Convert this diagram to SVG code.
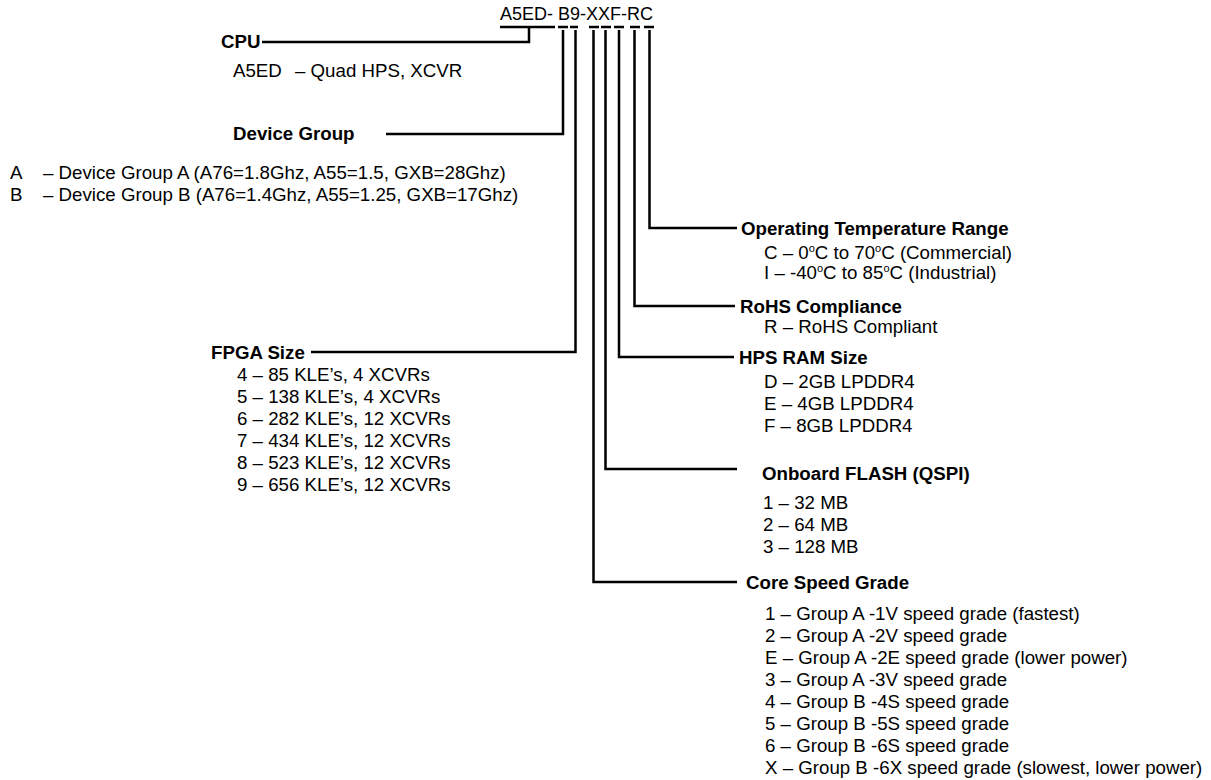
<svg xmlns="http://www.w3.org/2000/svg" width="1211" height="780" viewBox="0 0 1211 780">
<style>
text{font-family:"Liberation Sans",Arial,sans-serif;font-size:18.7px;fill:#000}
.b{font-weight:bold}
.pn{font-size:18px}
.ln{fill:none;stroke:#000;stroke-width:2.5}
.ul{fill:none;stroke:#000;stroke-width:2.5}
</style>
<rect width="1211" height="780" fill="#fff"/>
<g id="partnumber">
<text class="pn" x="500" y="20">A5ED- B9-XXF-RC</text>
<path class="ul" d="M500 27H555M558 27H568M570 27H578M589 27H599M601 27H611M614 27H624M630 27H640M644 27H654"/>
</g>
<g id="connectors">
<path class="ln" d="M529 27V42H262"/>
<path class="ln" d="M563 30V134H386"/>
<path class="ln" d="M575.5 30V352H311"/>
<path class="ln" d="M593.5 30V582H737"/>
<path class="ln" d="M605.5 30V469H737"/>
<path class="ln" d="M619 30V357H734"/>
<path class="ln" d="M634.5 30V306H735"/>
<path class="ln" d="M649.5 30V228H737"/>
</g>
<g id="cpu">
<text class="b" x="221" y="48">CPU</text>
<text x="233" y="77">A5ED<tspan x="295">– Quad HPS, XCVR</tspan></text>
</g>
<g id="device-group">
<text class="b" x="233" y="140">Device Group</text>
<text x="10" y="179">A<tspan x="43">– Device Group A (A76=1.8Ghz, A55=1.5, GXB=28Ghz)</tspan></text>
<text x="10" y="201">B<tspan x="43">– Device Group B (A76=1.4Ghz, A55=1.25, GXB=17Ghz)</tspan></text>
</g>
<g id="fpga-size">
<text class="b" x="211" y="359">FPGA Size</text>
<text x="237" y="381">4 – 85 KLE’s, 4 XCVRs</text>
<text x="237" y="403">5 – 138 KLE’s, 4 XCVRs</text>
<text x="237" y="425">6 – 282 KLE’s, 12 XCVRs</text>
<text x="237" y="447">7 – 434 KLE’s, 12 XCVRs</text>
<text x="237" y="469">8 – 523 KLE’s, 12 XCVRs</text>
<text x="237" y="491">9 – 656 KLE’s, 12 XCVRs</text>
</g>
<g id="temp-range">
<text class="b" x="741" y="235">Operating Temperature Range</text>
<text x="764" y="259">C – 0<tspan font-size="11" dy="-7">o</tspan><tspan dy="7">C to 70</tspan><tspan font-size="11" dy="-7">o</tspan><tspan dy="7">C (Commercial)</tspan></text>
<text x="764" y="279">I – -40<tspan font-size="11" dy="-7">o</tspan><tspan dy="7">C to 85</tspan><tspan font-size="11" dy="-7">o</tspan><tspan dy="7">C (Industrial)</tspan></text>
</g>
<g id="rohs">
<text class="b" x="740" y="313">RoHS Compliance</text>
<text x="764" y="333">R – RoHS Compliant</text>
</g>
<g id="hps-ram">
<text class="b" x="739" y="364">HPS RAM Size</text>
<text x="764" y="388">D – 2GB LPDDR4</text>
<text x="764" y="410">E – 4GB LPDDR4</text>
<text x="764" y="432">F – 8GB LPDDR4</text>
</g>
<g id="flash">
<text class="b" x="762" y="480">Onboard FLASH (QSPI)</text>
<text x="763" y="509">1 – 32 MB</text>
<text x="763" y="531">2 – 64 MB</text>
<text x="763" y="553">3 – 128 MB</text>
</g>
<g id="speed-grade">
<text class="b" x="746" y="589">Core Speed Grade</text>
<text x="765" y="620">1 – Group A -1V speed grade (fastest)</text>
<text x="765" y="642">2 – Group A -2V speed grade</text>
<text x="765" y="664">E – Group A -2E speed grade (lower power)</text>
<text x="765" y="686">3 – Group A -3V speed grade</text>
<text x="765" y="708">4 – Group B -4S speed grade</text>
<text x="765" y="730">5 – Group B -5S speed grade</text>
<text x="765" y="752">6 – Group B -6S speed grade</text>
<text x="765" y="774">X – Group B -6X speed grade (slowest, lower power)</text>
</g>
</svg>
